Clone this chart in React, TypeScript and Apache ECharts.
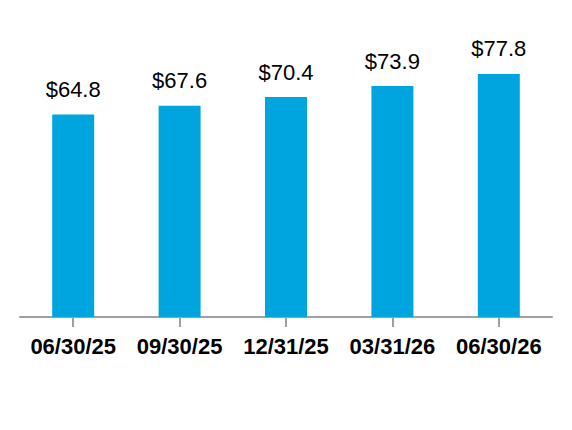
import React, { useEffect, useRef } from "react";
import * as echarts from "echarts";

const categories = ["06/30/25", "09/30/25", "12/31/25", "03/31/26", "06/30/26"];
const values = [64.8, 67.6, 70.4, 73.9, 77.8];

export default function App() {
  const ref = useRef<HTMLDivElement>(null);
  useEffect(() => {
    const chart = echarts.init(ref.current!, null, { renderer: "svg" });
    chart.setOption({
      animation: false,
      grid: { left: 20, right: 20, top: 67, bottom: 113 },
      xAxis: {
        type: "category",
        data: categories,
        axisLine: { show: true, lineStyle: { color: "#a0a0a0", width: 2 } },
        axisTick: { show: true, alignWithLabel: true, interval: 0, length: 10, lineStyle: { color: "#a0a0a0", width: 2 } },
        axisLabel: {
          interval: 0,
          color: "#000",
          fontFamily: "Liberation Sans, Arial",
          fontWeight: "bold",
          fontSize: 22,
          margin: 18,
        },
      },
      yAxis: { type: "value", min: 0, max: 80, show: false, splitLine: { show: false } },
      series: [
        {
          type: "bar",
          data: values,
          barWidth: 42,
          itemStyle: { color: "#00A5E0" },
          label: {
            show: true,
            position: "top",
            distance: 14,
            color: "#000",
            fontFamily: "Liberation Sans, Arial",
            fontSize: 22,
            formatter: (p: any) => "$" + p.value.toFixed(1),
          },
        },
      ],
    });
    return () => chart.dispose();
  }, []);
  return <div ref={ref} style={{ width: 572, height: 430, position: "absolute", left: 0, top: 0 }} />;
}
